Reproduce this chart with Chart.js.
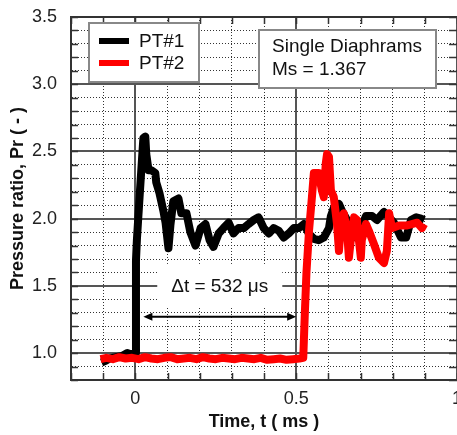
<!DOCTYPE html>
<html>
<head>
<meta charset="utf-8">
<script src="https://cdn.jsdelivr.net/npm/chart.js@4.4.0/dist/chart.umd.min.js"></script>
<style>
  html, body { margin: 0; padding: 0; background: #fff; }
  #wrap { width: 457px; height: 435px; }
</style>
</head>
<body>
<div id="wrap"><canvas id="pr-chart" width="457" height="435"></canvas></div>
<script>
// series (time in ms, pressure ratio)
const seriesNames = ['PT#1', 'PT#2'];
const seriesColors = ['#000000', '#ff0000'];

const pt1Time = [-0.105, -0.095, -0.08, -0.06, -0.04, -0.025, -0.012, 0,
  0.002, 0.005, 0.015, 0.025, 0.031, 0.034, 0.041, 0.05,
  0.062, 0.065, 0.075, 0.087, 0.094, 0.103, 0.109, 0.118,
  0.134, 0.143, 0.159, 0.171, 0.187, 0.203, 0.218, 0.231,
  0.243, 0.259, 0.274, 0.29, 0.305, 0.321, 0.337, 0.352,
  0.368, 0.383, 0.399, 0.415, 0.43, 0.446, 0.461, 0.477,
  0.493, 0.508, 0.524, 0.539, 0.555, 0.57, 0.586, 0.602,
  0.608, 0.617, 0.633, 0.642, 0.658, 0.673, 0.686, 0.701,
  0.717, 0.736, 0.751, 0.773, 0.789, 0.804, 0.826, 0.842,
  0.857, 0.873, 0.888, 0.898];
const pt1Ratio = [0.93, 0.94, 0.96, 0.97, 0.98, 1.0, 0.99, 1.0,
  1.69, 1.85, 2.23, 2.6, 2.61, 2.48, 2.36, 2.36,
  2.34, 2.27, 2.19, 2.06, 1.97, 1.78, 1.95, 2.13,
  2.15, 2.04, 2.04, 1.90, 1.80, 1.93, 1.96, 1.84,
  1.79, 1.89, 1.93, 1.97, 1.89, 1.93, 1.93, 1.96,
  1.99, 2.01, 1.93, 1.89, 1.93, 1.91, 1.86, 1.89,
  1.93, 1.93, 1.96, 1.89, 1.85, 1.84, 1.86, 1.93,
  2.02, 2.08, 2.11, 2.06, 1.99, 1.91, 1.86, 1.93,
  2.02, 2.02, 1.99, 2.05, 2.01, 1.97, 1.86, 1.86,
  1.99, 2.01, 2.0, 1.99];

const pt2Time = [-0.108, -0.09, -0.07, -0.05, -0.03, -0.01, 0.01, 0.03,
  0.05, 0.07, 0.09, 0.11, 0.13, 0.15, 0.17, 0.19,
  0.21, 0.23, 0.25, 0.27, 0.29, 0.31, 0.33, 0.35,
  0.37, 0.39, 0.41, 0.43, 0.45, 0.47, 0.49, 0.51,
  0.522, 0.527, 0.532, 0.54, 0.549, 0.555, 0.57,
  0.58, 0.586, 0.592, 0.596, 0.602, 0.608, 0.617, 0.627,
  0.633, 0.64, 0.648, 0.658, 0.664, 0.673, 0.68, 0.689,
  0.695, 0.701, 0.704, 0.717, 0.726, 0.742, 0.757, 0.773,
  0.782, 0.789, 0.798, 0.82, 0.845, 0.86, 0.876, 0.891,
  0.898];
const pt2Ratio = [0.955, 0.965, 0.955, 0.97, 0.96, 0.965, 0.955, 0.97,
  0.96, 0.955, 0.965, 0.97, 0.955, 0.96, 0.965, 0.955,
  0.97, 0.96, 0.955, 0.965, 0.96, 0.955, 0.965, 0.96,
  0.955, 0.965, 0.95, 0.955, 0.96, 0.95, 0.955, 0.96,
  0.965, 1.3, 1.6, 1.91, 2.16, 2.34, 2.34,
  2.21, 2.16, 2.41, 2.48, 2.46, 2.21, 2.16, 1.96,
  1.76, 1.99, 2.04, 1.91, 1.71, 1.91, 2.01, 1.99,
  1.84, 1.71, 1.84, 1.96, 1.91, 1.81, 1.71, 1.67,
  1.76, 2.04, 1.93, 1.95, 1.95, 1.96, 1.97, 1.93,
  1.96];

const xTickLabels = ['0', '0.5', '1'];
const yTickLabels = ['1.0', '1.5', '2.0', '2.5', '3.0', '3.5'];

const noteLines = ['Single Diaphrams', 'Ms = 1.367'];
const deltaLabel = 'Δt = 532 μs';
const deltaFrom = 0.025, deltaTo = 0.5, deltaLevel = 1.27;

const FONT = 'Arial, "Liberation Sans", sans-serif';
Chart.defaults.font.family = FONT;

const isMajor = v => Math.round(v * 10) % 5 === 0;
const gridColor = c => (c.tick && isMajor(c.tick.value)) ? '#555' : '#333';
const gridWidth = c => (c.tick && isMajor(c.tick.value)) ? 2 : 1;
const gridDash = c => (c.tick && !isMajor(c.tick.value)) ? [1, 2] : [];

function toPoints(xs, ys) {
  return xs.map((t, i) => ({ x: t, y: ys[i] }));
}

// frame ticks, legend box, note box and the delta-t arrow
const decorPlugin = {
  id: 'decor',
  beforeDatasetsDraw(chart) {
    const { ctx, chartArea: a, scales: { x, y } } = chart;
    ctx.save();

    ctx.strokeStyle = '#333';
    ctx.lineWidth = 2;
    ctx.beginPath();
    ctx.moveTo(a.left, a.top);
    ctx.lineTo(a.right, a.top);
    ctx.stroke();

    ctx.lineWidth = 1.5;
    ctx.beginPath();
    x.ticks.forEach(t => {
      const px = Math.round(x.getPixelForValue(t.value)) + 0.5;
      ctx.moveTo(px, a.bottom); ctx.lineTo(px, a.bottom - 7);
      ctx.moveTo(px, a.top); ctx.lineTo(px, a.top + 7);
    });
    y.ticks.forEach(t => {
      const py = Math.round(y.getPixelForValue(t.value)) + 0.5;
      ctx.moveTo(a.left, py); ctx.lineTo(a.left + 7, py);
      ctx.moveTo(a.right, py); ctx.lineTo(a.right - 8, py);
    });
    ctx.stroke();

    // legend
    const lx = a.left + 18, ly = a.top + 6;
    ctx.fillStyle = '#fff';
    ctx.fillRect(lx, ly, 110, 59);
    ctx.strokeStyle = '#888';
    ctx.lineWidth = 2;
    ctx.strokeRect(lx, ly, 110, 59);
    ctx.font = '19px ' + FONT;
    ctx.textBaseline = 'middle';
    chart.data.datasets.forEach((ds, i) => {
      const yy = ly + 18 + i * 22;
      ctx.strokeStyle = ds.borderColor;
      ctx.lineWidth = 6;
      ctx.beginPath();
      ctx.moveTo(lx + 10, yy); ctx.lineTo(lx + 40, yy);
      ctx.stroke();
      ctx.fillStyle = '#111';
      ctx.fillText(ds.label, lx + 50, yy + 1);
    });

    // note box
    const nx = a.left + 188, ny = a.top + 13;
    ctx.fillStyle = '#fff';
    ctx.fillRect(nx, ny, 177, 58);
    ctx.strokeStyle = '#888';
    ctx.lineWidth = 2;
    ctx.strokeRect(nx, ny, 177, 58);
    ctx.fillStyle = '#111';
    noteLines.forEach((s, i) => ctx.fillText(s, nx + 13, ny + 17 + i * 23));

    // delta-t label on white patch
    const cx = (x.getPixelForValue(deltaFrom) + x.getPixelForValue(deltaTo)) / 2;
    const cy = y.getPixelForValue(1.5);
    const w = ctx.measureText(deltaLabel).width;
    ctx.fillStyle = '#fff';
    ctx.fillRect(cx - w / 2 - 14, cy - 22, w + 28, 43);
    ctx.fillStyle = '#111';
    ctx.textAlign = 'center';
    ctx.fillText(deltaLabel, cx, cy + 1);

    // double arrow
    const x0 = x.getPixelForValue(deltaFrom), x1 = x.getPixelForValue(deltaTo);
    const ay = y.getPixelForValue(deltaLevel);
    ctx.strokeStyle = '#000';
    ctx.fillStyle = '#000';
    ctx.lineWidth = 2;
    ctx.beginPath();
    ctx.moveTo(x0 + 6, ay); ctx.lineTo(x1 - 6, ay);
    ctx.stroke();
    ctx.beginPath();
    ctx.moveTo(x0, ay); ctx.lineTo(x0 + 9, ay - 4); ctx.lineTo(x0 + 9, ay + 4); ctx.closePath();
    ctx.moveTo(x1, ay); ctx.lineTo(x1 - 9, ay - 4); ctx.lineTo(x1 - 9, ay + 4); ctx.closePath();
    ctx.fill();

    ctx.restore();
  }
};

const chart = new Chart(document.getElementById('pr-chart'), {
  type: 'line',
  data: {
    datasets: [{
      label: seriesNames[0],
      data: toPoints(pt1Time, pt1Ratio),
      borderColor: seriesColors[0],
      borderWidth: 8,
      order: 1
    }, {
      label: seriesNames[1],
      data: toPoints(pt2Time, pt2Ratio),
      borderColor: seriesColors[1],
      borderWidth: 8,
      order: 0
    }]
  },
  options: {
    responsive: false,
    animation: false,
    events: [],
    layout: { padding: { top: 17, left: 0, right: 0, bottom: 0 }, autoPadding: false },
    elements: {
      point: { radius: 0 },
      line: { tension: 0, fill: false, borderJoinStyle: 'round' }
    },
    plugins: {
      legend: { display: false },
      tooltip: { enabled: false }
    },
    scales: {
      x: {
        type: 'linear',
        min: -0.2,
        max: 1.0,
        afterFit: s => { s.height = 55; s.paddingLeft = 0; s.paddingRight = 0; },
        ticks: {
          stepSize: 0.1,
          autoSkip: false,
          maxRotation: 0,
          minRotation: 0,
          padding: 8,
          color: '#222',
          font: { size: 18 },
          callback: v => {
            const t = String(Math.round(v * 10) / 10);
            return xTickLabels.includes(t) ? t : '';
          }
        },
        grid: { drawTicks: false, color: gridColor, lineWidth: gridWidth },
        border: { color: '#333', width: 2, dash: gridDash },
        title: {
          display: true,
          text: 'Time, t ( ms )',
          color: '#111',
          font: { size: 18, weight: 'bold' },
          padding: { top: 0, bottom: 2 }
        }
      },
      y: {
        type: 'linear',
        min: 0.8,
        max: 3.5,
        afterFit: s => { s.width = 71; s.paddingTop = 0; s.paddingBottom = 0; },
        ticks: {
          stepSize: 0.1,
          autoSkip: false,
          padding: 14,
          color: '#222',
          font: { size: 18 },
          callback: v => {
            const t = (Math.round(v * 10) / 10).toFixed(1);
            return yTickLabels.includes(t) ? t : '';
          }
        },
        grid: { drawTicks: false, color: gridColor, lineWidth: gridWidth },
        border: { color: '#333', width: 2, dash: gridDash },
        title: {
          display: true,
          text: 'Pressure ratio, Pr ( - )',
          color: '#111',
          font: { size: 18, weight: 'bold' },
          padding: { top: 7, bottom: 0 }
        }
      }
    }
  },
  plugins: [decorPlugin]
});
</script>
</body>
</html>
